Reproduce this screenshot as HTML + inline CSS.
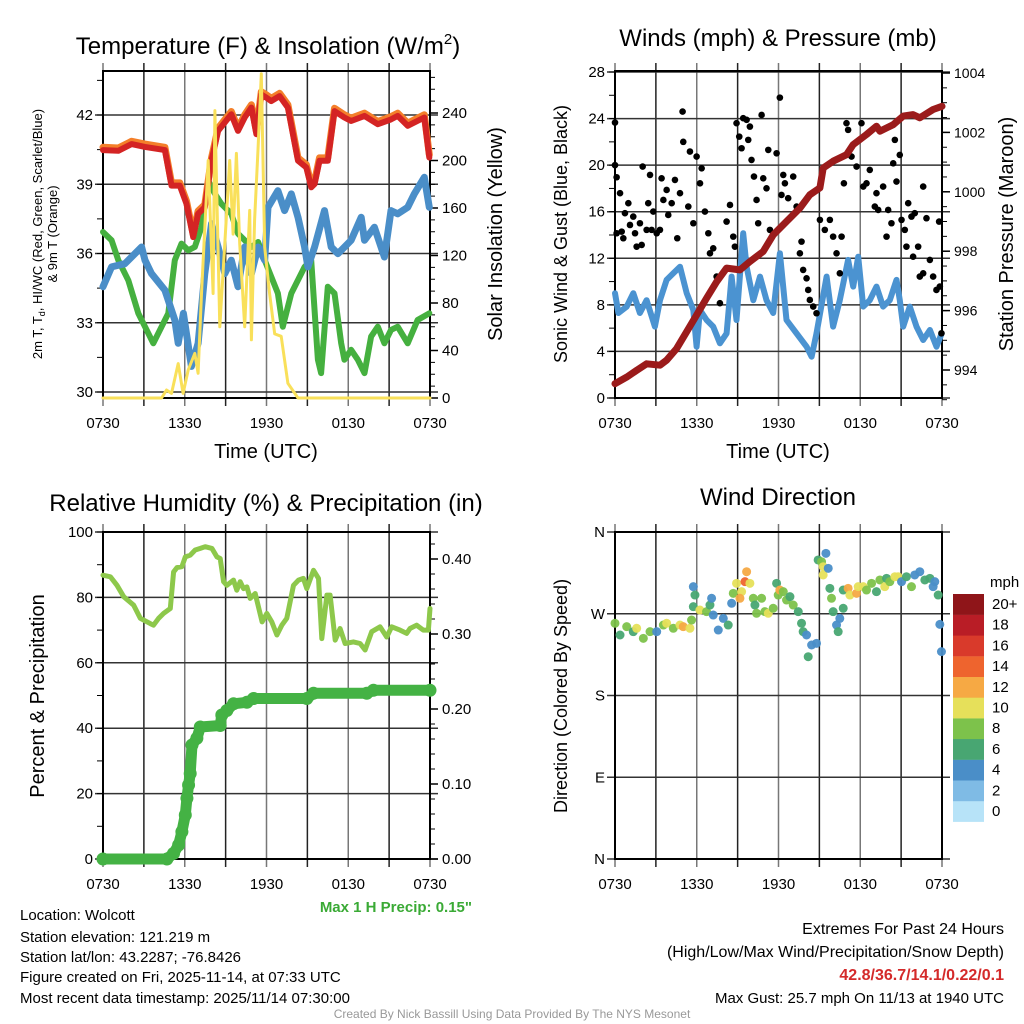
<!DOCTYPE html>
<html><head><meta charset="utf-8"><style>
html,body{margin:0;padding:0;background:#fff;}
svg{display:block;font-family:"Liberation Sans",Arial,sans-serif;}
</style></head><body>
<svg id="chart" width="1024" height="1024" viewBox="0 0 1024 1024" xmlns="http://www.w3.org/2000/svg">
<g id="g1"></g>
<g id="g2"></g>
<g id="g3"></g>
<g id="g4"></g>

<text x="268" y="54" font-size="24" text-anchor="middle">Temperature (F) &amp; Insolation (W/m<tspan font-size="15" dy="-10">2</tspan><tspan dy="10">)</tspan></text>
<text x="778" y="46" font-size="24" text-anchor="middle">Winds (mph) &amp; Pressure (mb)</text>
<text x="266" y="511" font-size="24" text-anchor="middle">Relative Humidity (%) &amp; Precipitation (in)</text>
<text x="778" y="505" font-size="24" text-anchor="middle">Wind Direction</text>

<text x="266" y="458" font-size="20" text-anchor="middle">Time (UTC)</text>
<text x="778" y="458" font-size="20" text-anchor="middle">Time (UTC)</text>

<text transform="translate(42,234) rotate(-90)" font-size="13" text-anchor="middle">2m T, T<tspan font-size="9" dy="3">d</tspan><tspan dy="-3">, HI/WC (Red, Green, Scarlet/Blue)</tspan></text>
<text transform="translate(57,234) rotate(-90)" font-size="13" text-anchor="middle">&amp; 9m T (Orange)</text>
<text transform="translate(502,234) rotate(-90)" font-size="20" text-anchor="middle">Solar Insolation (Yellow)</text>
<text transform="translate(567,234) rotate(-90)" font-size="18" text-anchor="middle">Sonic Wind &amp; Gust (Blue, Black)</text>
<text transform="translate(1013,234) rotate(-90)" font-size="20" text-anchor="middle">Station Pressure (Maroon)</text>
<text transform="translate(44,696) rotate(-90)" font-size="20" text-anchor="middle">Percent &amp; Precipitation</text>
<text transform="translate(567,696) rotate(-90)" font-size="18" text-anchor="middle">Direction (Colored By Speed)</text>

<text x="472" y="912" font-size="15" font-weight="bold" fill="#3aaa35" text-anchor="end">Max 1 H Precip: 0.15"</text>

<g font-size="15">
<text x="20" y="920">Location: Wolcott</text>
<text x="20" y="942">Station elevation: 121.219 m</text>
<text x="20" y="962">Station lat/lon: 43.2287; -76.8426</text>
<text x="20" y="982">Figure created on Fri, 2025-11-14, at 07:33 UTC</text>
<text x="20" y="1003">Most recent data timestamp: 2025/11/14 07:30:00</text>
</g>
<g font-size="16" text-anchor="end">
<text x="1004" y="934">Extremes For Past 24 Hours</text>
<text x="1004" y="957">(High/Low/Max Wind/Precipitation/Snow Depth)</text>
<text x="1004" y="980" fill="#d42a2a" font-weight="bold">42.8/36.7/14.1/0.22/0.1</text>
<text x="1004" y="1003" font-size="15">Max Gust: 25.7 mph On 11/13 at 1940 UTC</text>
</g>
<text x="512" y="1018" font-size="12" fill="#999" text-anchor="middle">Created By Nick Bassill Using Data Provided By The NYS Mesonet</text>
</svg>
<script>
// ---------- data (hours since 0730 UTC) ----------
const timeTicks = ["0730","1330","1930","0130","0730"];
const tempH = [0,1.12,2.1,3.08,4.54,5.03,5.64,6.13,6.62,6.98,7.47,7.96,8.45,9.42,9.91,10.4,10.89,11.26,11.62,11.99,12.35,12.96,13.57,14.31,14.92,15.28,15.53,15.89,16.5,16.99,17.72,18.21,19.19,20.17,21.14,21.63,22.36,23.58,23.95];
const tempV = [40.48,40.45,40.74,40.62,40.48,38.94,38.94,38.15,36.71,37.72,38.0,40.02,41.31,42.03,41.31,41.89,42.32,41.17,42.89,42.75,42.6,42.82,42.32,40.02,39.73,38.87,39.01,40.02,40.02,42.17,41.89,41.74,41.96,41.6,41.81,41.96,41.53,41.89,40.16];
const hiwcH = [0,0.63,1.61,2.83,3.08,3.56,4.54,5.27,5.52,5.9,6.49,6.98,7.47,7.96,8.45,8.94,9.42,9.91,10.4,10.89,11.38,11.87,12.11,12.84,13.33,13.82,14.31,14.8,15.04,15.53,16.26,16.75,17.24,18.21,18.95,19.19,19.92,20.65,21.14,21.63,22.36,22.85,23.58,23.95];
const hiwcV = [34.56,35.42,35.56,36.28,35.71,35.13,34.41,33.12,32.11,33.41,31.11,32.11,35.13,37.29,36.28,35.13,35.71,34.56,36.28,35.13,36.28,35.71,38.0,38.72,37.86,38.58,37.57,36.28,35.42,36.28,37.86,36.28,35.99,36.57,37.57,36.57,37.14,35.85,37.86,37.72,38.0,38.58,39.3,38.0];
const dewH = [0,0.63,1.12,1.86,2.59,3.08,3.69,4.3,4.79,5.27,5.76,6.25,6.74,7.23,7.72,8.21,8.69,9.42,9.91,10.4,10.89,11.38,11.87,12.35,12.84,13.2,13.82,14.8,15.28,15.77,16.01,16.5,16.99,17.48,17.72,18.21,18.7,19.19,19.68,20.17,20.65,21.14,21.63,22.36,23.09,23.95];
const dewV = [36.93,36.57,35.71,34.84,33.41,32.83,32.11,32.83,33.41,35.71,36.43,36.14,36.28,37.14,39.16,38.58,38.15,37.72,36.86,36.57,36.28,36.5,35.71,34.99,34.27,32.83,34.27,35.42,35.71,31.4,30.82,34.56,34.27,32.11,31.4,31.83,31.4,30.82,32.4,32.83,32.11,32.69,32.83,32.11,33.12,33.41];
const solarH = [0,4.3,4.66,5.03,5.52,5.88,6.25,6.74,6.98,7.23,7.72,8.08,8.21,8.57,8.94,9.3,9.55,9.79,10.03,10.4,10.77,10.89,11.13,11.38,11.62,11.87,12.23,12.6,13.08,13.57,14.31,24];
const solarV = [0,0,6.7,3.9,29,3.9,23.6,37.6,20.8,88,200,88,242,60,130,200,138,206,130,60,158,49,150,211,273,127,88,54,52,12.4,0,0];
const windH = [0,0.25,0.86,1.34,1.83,2.32,2.93,3.3,3.79,4.28,4.77,5.26,5.75,5.99,6.24,6.72,7.21,7.7,8.19,8.56,8.92,9.41,9.66,10.15,10.64,11.12,11.61,12.1,12.59,13.33,14.06,14.43,14.79,15.53,16.01,16.5,17.11,17.48,17.85,18.22,18.7,19.19,19.68,20.17,20.66,20.9,21.15,21.64,22.13,22.62,23.11,23.6,23.98];
const windV = [9.0,7.3,7.85,9.0,7.3,8.4,6.13,8.4,10.14,10.71,11.28,9.0,7.56,4.41,7.56,6.7,6.13,4.7,5.55,10.43,6.7,14.15,11.28,8.4,10.43,8.4,7.3,12.43,6.7,5.55,4.41,3.55,5.55,10.43,6.13,8.4,11.86,9.57,12.14,7.85,8.4,9.57,7.85,8.4,10.14,8.4,6.13,7.85,6.13,4.98,5.84,4.41,5.55];
const gustH = [0,0,0.12,0.37,0.12,0.49,0.61,0.73,0.98,1.1,1.34,1.47,1.59,1.83,1.96,2.03,2.32,2.44,2.57,2.69,2.81,3.06,3.3,3.42,3.55,3.79,3.91,4.16,4.4,4.57,4.77,4.96,5.01,5.38,5.5,5.75,5.99,6.24,6.36,6.6,6.85,6.97,7.21,7.46,7.7,8.19,8.44,8.68,8.8,8.92,9.12,9.29,9.41,9.66,9.78,9.9,10.02,10.2,10.39,10.51,10.76,10.88,11.12,11.25,11.37,11.61,11.86,12.1,12.22,12.35,12.47,12.71,13.08,13.33,13.57,13.69,13.81,14.06,14.18,14.3,14.55,14.79,15.04,15.4,15.77,16.01,16.26,16.5,16.63,16.8,16.99,17.11,17.36,17.73,18.09,18.22,18.46,18.7,19.07,19.19,19.32,19.68,19.93,20.05,20.29,20.42,20.54,20.66,20.9,21.03,21.27,21.39,21.52,21.76,21.88,22.0,22.25,22.37,22.62,22.62,22.86,23.11,23.35,23.59,23.79,23.84,23.96];
const gustV = [23.66,20.0,18.96,17.59,14.15,14.29,13.72,15.87,16.73,14.86,15.58,14.15,13.0,15.01,13.15,19.88,14.44,16.73,19.16,14.44,16.01,14.15,14.44,18.87,17.01,17.87,15.72,16.73,18.73,13.72,17.59,24.6,22.0,16.44,21.17,15.01,20.74,18.44,19.73,16.01,14.15,12.43,12.86,10.43,8.14,15.15,16.58,13.86,13.0,23.6,22.45,21.45,24.03,23.89,22.17,23.31,20.45,19.02,17.01,15.01,24.31,18.87,18.01,21.31,14.44,14.15,21.02,25.8,17.44,19.16,18.44,17.16,19.02,16.44,12.43,13.43,11.0,10.28,9.28,8.42,7.85,7.28,15.3,14.44,15.3,13.86,12.43,10.71,13.86,18.44,23.6,23.03,20.74,19.88,23.6,18.16,18.44,19.59,16.44,17.59,16.15,18.16,13.86,16.15,15.01,20.16,22.17,18.59,20.88,15.3,14.44,13.0,16.73,15.58,12.14,15.87,13.0,10.43,18.16,10.71,15.44,11.86,10.43,9.28,15.15,9.57,5.56];
const presH = [0,0.86,1.59,2.32,3.3,3.79,4.52,5.26,5.99,6.72,7.46,8.19,9.17,9.9,10.88,11.61,12.59,13.57,14.3,15.04,15.28,16.01,16.99,17.48,18.46,19.19,19.44,20.42,21.15,21.88,22.37,23.35,24];
const presV = [993.54,993.76,993.99,994.21,994.16,994.33,994.72,995.29,995.85,996.42,996.97,997.43,997.37,997.65,997.99,998.55,999.0,999.45,999.9,1000.13,1000.8,1001.03,1001.25,1001.59,1001.93,1002.21,1002.04,1002.26,1002.55,1002.6,1002.49,1002.77,1002.88];
const rhH = [0,0.54,1.03,1.52,2.25,2.74,3.47,3.71,4.08,4.45,4.94,5.18,5.43,5.79,6.04,6.4,6.77,7.14,7.5,7.99,8.36,8.6,8.85,9.09,9.58,9.82,10.07,10.31,10.56,10.8,11.17,11.68,12.02,12.39,12.76,13.12,13.49,13.98,14.35,14.71,14.96,15.45,15.82,16.06,16.43,16.67,17.04,17.4,17.77,18.38,18.87,19.24,19.72,20.34,20.82,21.19,21.8,22.29,22.53,23.02,23.51,23.88,24];
const rhV = [86.8,86.3,83.7,80.2,77.6,73.6,72.0,71.5,73.6,75.1,76.6,87.8,89.1,89.4,92.4,92.9,94.5,95.0,95.5,95.0,92.4,91.9,84.8,83.7,85.3,82.2,84.8,82.7,83.2,79.7,81.2,72.5,75.1,72.5,68.5,71.5,73.6,83.7,85.3,85.8,82.7,88.3,85.8,67.4,80.7,80.7,66.9,70.5,65.9,66.4,65.9,63.9,69.5,71.0,67.9,71.0,70.0,69.0,70.5,71.5,70.0,70.0,76.6];
const pcpH = [0,4.69,5.18,5.55,5.79,6.04,6.16,6.28,6.4,6.53,6.89,7.14,8.6,8.72,9.09,9.58,10.56,11.05,14.96,15.45,19.36,19.85,24];
const pcpV = [0,0,0.0075,0.0187,0.0364,0.0587,0.081,0.0987,0.114,0.152,0.161,0.176,0.178,0.192,0.198,0.207,0.209,0.214,0.214,0.221,0.221,0.225,0.225];
const dirH = [0,0.37,0.86,1.34,1.59,2.08,2.57,3.06,3.55,3.79,4.28,4.77,5.01,5.5,5.62,5.75,5.87,5.75,6.23,6.72,6.97,7.21,7.09,7.58,7.95,8.31,8.56,8.68,8.92,9.29,9.17,9.54,9.66,9.9,10.15,10.27,10.39,10.76,11.0,11.25,11.61,11.86,11.98,12.1,12.35,12.59,12.84,13.08,13.45,13.69,13.81,14.06,14.18,14.43,14.79,14.91,15.16,15.28,15.28,15.48,15.65,15.77,15.89,16.01,16.26,16.38,16.5,16.75,16.75,17.11,17.24,17.73,17.85,18.22,18.46,18.83,19.19,19.44,19.8,19.93,20.17,20.54,20.78,21.03,21.39,21.76,22.0,22.37,22.74,23.11,23.35,23.47,23.72,23.84,23.96];
const dirV = [259.5,246.6,255.8,250.3,254,242.9,250.3,250.3,257.6,259.5,254,257.6,255.8,254,263.1,299.8,290.6,277.8,274.1,272.3,279.6,268.6,287,252.1,264.9,257.6,281.5,292.5,303.5,294.3,287,305.3,316.3,303.5,287,279.6,270.5,287,272.3,270.5,276,303.5,290.6,296.1,294.3,285.1,288.8,279.6,272.3,259.5,250.3,246.6,222.7,235.6,237.4,329.2,327.3,312.7,321.8,336.5,320,298,287,272.3,257.6,250.3,264.9,276,296.1,298,290.6,292.5,299.8,299.8,296.1,303.5,294.3,307.2,299.8,309,305.3,310.8,310.8,305.3,310.8,299.8,312.7,316.3,307.2,309,299.8,305.3,290.6,258.3,228.3];
const dirSpd = [8,6,8,6,10,8,8,4,8,10,8,10,12,10,8,4,6,6,10,8,6,4,4,4,4,6,4,8,10,10,12,14,12,10,8,6,8,8,8,10,8,6,8,12,8,8,6,8,6,6,6,4,6,4,4,6,8,10,10,4,4,6,8,6,4,6,4,6,6,12,10,12,10,10,8,8,6,8,10,6,8,10,10,4,6,8,4,4,6,6,4,4,6,4,4];
const speedLabels = ["0","2","4","6","8","10","12","14","16","18","20+"];
const speedColors = ["#b7e3f8","#7fbbe5","#4a8ec8","#48a672","#7dc24b","#e6e05a","#f6a944","#ee642e","#d93a2b","#b91d26","#8f1519"];

// ---------- helpers ----------
const NS="http://www.w3.org/2000/svg";
function mk(parent,tag,attrs){const e=document.createElementNS(NS,tag);for(const k in attrs)e.setAttribute(k,attrs[k]);parent.appendChild(e);return e;}
const X0A=103,X1A=430,X0B=615,X1B=942;
function xs(x0,x1){return h=>x0+h/24*(x1-x0);}
function lin(d0,d1,p0,p1){return v=>p0+(v-d0)/(d1-d0)*(p1-p0);}
function path(g,H,V,sx,sy,stroke,w,name){
  let d=H.map((h,i)=>(i?"L":"M")+sx(h).toFixed(1)+","+sy(V[i]).toFixed(1)).join("");
  const p=mk(g,"path",{d:d,fill:"none",stroke:stroke,"stroke-width":w,"stroke-linejoin":"round","stroke-linecap":"round"});
  
  
  return p;
}
function frame(g,x0,x1,y0,y1,hLines){
  const sx=xs(x0,x1);
  for(let k=0;k<=8;k++){const x=sx(k*3);
    const l=mk(g,"line",{x1:x,x2:x,y1:y0-8,y2:y1+8,stroke:k%2?"#222":"#777","stroke-width":1.5});
    
    
  }
  hLines.forEach(y=>{
    const l=mk(g,"line",{x1:x0-8,x2:x1+8,y1:y,y2:y,stroke:"#333","stroke-width":1.5});
    
    
  });
  const r=mk(g,"rect",{x:x0,y:y0,width:x1-x0,height:y1-y0,fill:"none",stroke:"#000","stroke-width":2});
  
  
  timeTicks.forEach((t,i)=>{
    const tx=mk(g,"text",{x:sx(i*6),y:y1+30,"font-size":15,"text-anchor":"middle"});
    tx.textContent=t;
    
    
  });
  return sx;
}
function ticksLeft(g,x,vals,sy,labels,minor){
  vals.forEach((v,i)=>{
    const t=mk(g,"text",{x:x-10,y:sy(v)+5,"font-size":15,"text-anchor":"end"});t.textContent=labels[i];
    
    
  });
  minor.forEach(v=>mk(g,"line",{x1:x-6,x2:x,y1:sy(v),y2:sy(v),stroke:"#000","stroke-width":1}));
}
function ticksRight(g,x,vals,sy,labels,minor,fs){
  vals.forEach((v,i)=>{
    mk(g,"line",{x1:x,x2:x+8,y1:sy(v),y2:sy(v),stroke:"#000","stroke-width":1.5});
    const t=mk(g,"text",{x:x+12,y:sy(v)+5,"font-size":fs||15});t.textContent=labels[i];
    
    
  });
  minor.forEach(v=>mk(g,"line",{x1:x,x2:x+5,y1:sy(v),y2:sy(v),stroke:"#000","stroke-width":1}));
}
function range(a,b,s){const r=[];for(let v=a;v<=b+1e-9;v+=s)r.push(+v.toFixed(4));return r;}

// ---------- panel 1 ----------
(function(){
  const g=document.getElementById("g1");
  const ty=lin(30,42,392,115), sy=lin(0,240,398,113);
  const sx=frame(g,X0A,X1A,71,398,[30,33,36,39,42].map(ty));
  ticksLeft(g,X0A,[30,33,36,39,42],ty,["30","33","36","39","42"],range(30,43.5,1.5));
  ticksRight(g,X1A,[0,40,80,120,160,200,240],sy,["0","40","80","120","160","200","240"],range(0,270,10));
  path(g,dewH,dewV,sx,ty,"#45b03f",6,"dewpoint-line");
  path(g,hiwcH,hiwcV,sx,ty,"#4a8ec8",7,"heat-index-line");
  path(g,tempH,tempV.map(v=>v+0.12),sx,ty,"#f47f2a",7,"9m-temperature-line");
  path(g,tempH,tempV,sx,ty,"#d42424",6,"temperature-line");
  path(g,solarH,solarV,sx,sy,"#f9e05a",3,"insolation-line");
})();

// ---------- panel 2 ----------
(function(){
  const g=document.getElementById("g2");
  const wy=lin(0,28,398,72), py=lin(994,1004,370,73);
  const sx=frame(g,X0B,X1B,71,398,[0,4,8,12,16,20,24,28].map(wy));
  ticksLeft(g,X0B,[0,4,8,12,16,20,24,28],wy,["0","4","8","12","16","20","24","28"],range(0,28,2));
  ticksRight(g,X1B,[994,996,998,1000,1002,1004],py,["994","996","998","1000","1002","1004"],range(993,1004,0.5),14);
  path(g,windH,windV,sx,wy,"#4b93d1",6,"sonic-wind-line");
  gustH.forEach((h,i)=>{
    const c=mk(g,"circle",{cx:sx(h),cy:wy(gustV[i]),r:3.3,fill:"#000"});
    
    
  });
  path(g,presH,presV,sx,py,"#9b1b1b",7,"pressure-line");
})();

// ---------- panel 3 ----------
(function(){
  const g=document.getElementById("g3");
  const ry=lin(0,100,859,532), py=lin(0,0.4,859,559);
  const sx=frame(g,X0A,X1A,532,859,[0,20,40,60,80,100].map(ry));
  ticksLeft(g,X0A,[0,20,40,60,80,100],ry,["0","20","40","60","80","100"],range(0,100,10));
  ticksRight(g,X1A,[0,0.1,0.2,0.3,0.4],py,["0.00","0.10","0.20","0.30","0.40"],range(0,0.42,0.02));
  path(g,rhH,rhV,sx,ry,"#8dc84b",5,"relative-humidity-line");
  path(g,pcpH,pcpV,sx,py,"#44b244",11,"precipitation-line");
  pcpH.forEach((h,i)=>{
    const c=mk(g,"circle",{cx:sx(h),cy:py(pcpV[i]),r:6.5,fill:"#44b244"});
    
    
  });
})();

// ---------- panel 4 ----------
(function(){
  const g=document.getElementById("g4");
  const dy=lin(0,360,859,532);
  const sx=frame(g,X0B,X1B,532,859,[0,90,180,270,360].map(dy));
  ticksLeft(g,X0B,[0,90,180,270,360],dy,["N","E","S","W","N"],[]);
  dirH.forEach((h,i)=>{
    const b=Math.min(10,Math.round(dirSpd[i]/2));
    const c=mk(g,"circle",{cx:sx(h),cy:dy(dirV[i]),r:4.5,fill:speedColors[b],"fill-opacity":0.95});
    
    
  });
  const lg=mk(g,"g",{});
  
  
  const t=mk(lg,"text",{x:990,y:587,"font-size":15});t.textContent="mph";
  speedColors.forEach((c,i)=>{
    const y=594+(10-i)*20.7;
    const r=mk(lg,"rect",{x:953,y:y,width:31,height:20.9,fill:c});
    
    
    const tx=mk(lg,"text",{x:992,y:y+15,"font-size":15});tx.textContent=speedLabels[i];
    
    
  });
})();
</script>
</body></html>
